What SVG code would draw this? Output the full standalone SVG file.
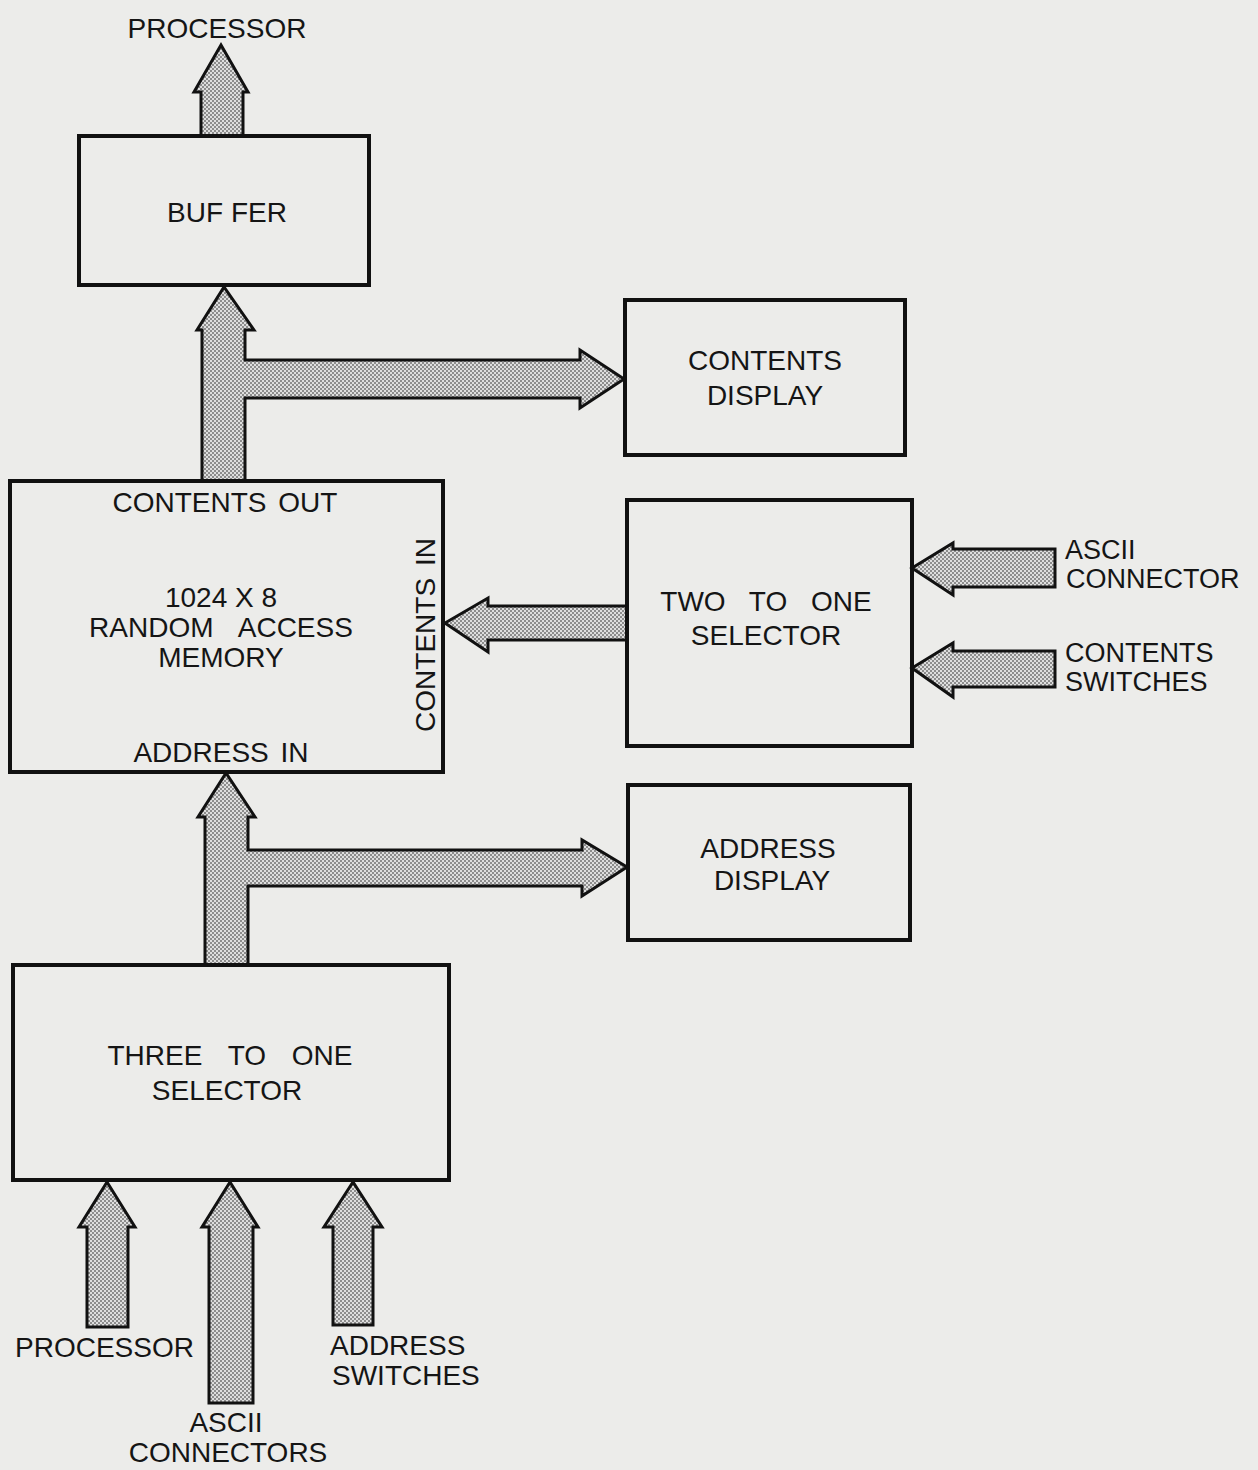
<svg xmlns="http://www.w3.org/2000/svg" width="1258" height="1470" viewBox="0 0 1258 1470">
<defs>
<pattern id="dots" width="4" height="4" patternUnits="userSpaceOnUse">
<rect width="4" height="4" fill="#dedede"/>
<circle cx="1" cy="1" r="0.95" fill="#6a6a6a"/>
<circle cx="3" cy="3" r="0.95" fill="#6a6a6a"/>
</pattern>
</defs>
<style>
.box{fill:none;stroke:#111;stroke-width:4}
.arr{fill:url(#dots);stroke:#111;stroke-width:3;stroke-linejoin:miter}
text{font-family:"Liberation Sans",Arial,sans-serif;font-size:28px;fill:#151515}
.c{text-anchor:middle}
.s{font-size:27px}
</style>
<rect width="1258" height="1470" fill="#ececea"/>
<g id="connectors">
<polygon class="arr" points="201,136 201,92 194,92 221,45 248,92 243,92 243,136"/>
<polygon class="arr" points="202,481 202,330 197,330 224,287 254,330 245,330 245,360 580,360 580,350 624,379 580,408 580,398 245,398 245,481"/>
<polygon class="arr" points="627,606 488,606 488,598 445,623 488,652 488,640 627,640"/>
<polygon class="arr" points="1055,549 953,549 953,543 912,568 953,595 953,587 1055,587"/>
<polygon class="arr" points="1055,651 953,651 953,643 912,668 953,697 953,687 1055,687"/>
<polygon class="arr" points="205,965 205,817 198,817 226,773 255,817 248,817 248,850 582,850 582,840 627,867 582,896 582,886 248,886 248,965"/>
<polygon class="arr" points="87,1327 87,1227 79,1227 107,1182 135,1227 128,1227 128,1327"/>
<polygon class="arr" points="209,1403 209,1227 202,1227 230,1182 258,1227 253,1227 253,1403"/>
<polygon class="arr" points="333,1325 333,1227 324,1227 353,1182 382,1227 373,1227 373,1325"/>
</g>
<g id="buffer">
<rect class="box" x="79" y="136" width="290" height="149"/>
<text class="c" x="227" y="222">BUF FER</text>
</g>
<g id="contents-display">
<rect class="box" x="625" y="300" width="280" height="155"/>
<text class="c" x="765" y="370">CONTENTS</text>
<text class="c" x="765" y="405">DISPLAY</text>
</g>
<g id="ram">
<rect class="box" x="10" y="481" width="433" height="291"/>
<text class="c" x="225" y="512" word-spacing="4">CONTENTS OUT</text>
<text class="c" x="221" y="607">1024 X 8</text>
<text class="c" x="221" y="637" word-spacing="18">RANDOM ACCESS</text>
<text class="c" x="221" y="667">MEMORY</text>
<text class="c" x="221" y="762" word-spacing="4">ADDRESS IN</text>
<text class="c" transform="translate(435,635) rotate(-90)" word-spacing="4">CONTENTS IN</text>
</g>
<g id="two-to-one">
<rect class="box" x="627" y="500" width="285" height="246"/>
<text class="c" x="766" y="611" word-spacing="16">TWO TO ONE</text>
<text class="c" x="766" y="645">SELECTOR</text>
</g>
<g id="ascii-connector-label">
<text class="s" x="1065" y="559">ASCII</text>
<text class="s" x="1066" y="588">CONNECTOR</text>
</g>
<g id="contents-switches-label">
<text class="s" x="1065" y="662">CONTENTS</text>
<text class="s" x="1065" y="691">SWITCHES</text>
</g>
<g id="address-display">
<rect class="box" x="628" y="785" width="282" height="155"/>
<text class="c" x="768" y="858">ADDRESS</text>
<text class="c" x="772" y="890">DISPLAY</text>
</g>
<g id="three-to-one">
<rect class="box" x="13" y="965" width="436" height="215"/>
<text class="c" x="230" y="1065" word-spacing="18">THREE TO ONE</text>
<text class="c" x="227" y="1100">SELECTOR</text>
</g>
<g id="processor-top"><text class="c" x="217" y="38">PROCESSOR</text></g>
<g id="processor-bottom"><text x="15" y="1357">PROCESSOR</text></g>
<g id="address-switches-label">
<text x="330" y="1355">ADDRESS</text>
<text x="332" y="1385">SWITCHES</text>
</g>
<g id="ascii-connectors-label">
<text class="c" x="226" y="1432">ASCII</text>
<text class="c" x="228" y="1462">CONNECTORS</text>
</g>
</svg>
